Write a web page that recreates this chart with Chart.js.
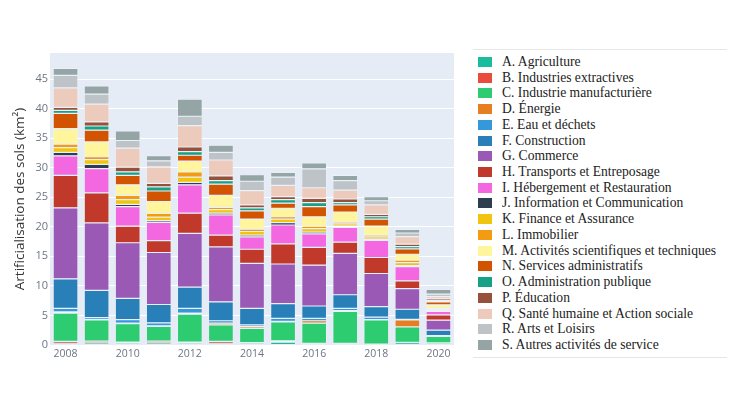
<!DOCTYPE html>
<html>
<head>
<meta charset="utf-8">
<script src="https://cdn.jsdelivr.net/npm/chart.js@4"></script>
<style>
  html, body { margin: 0; padding: 0; background: #fff; }
  #wrap { position: relative; width: 730px; height: 410px; overflow: hidden; }
  #plot { position: absolute; left: 0; top: 0; width: 470px; height: 410px; }
  #legend {
    position: absolute; left: 476px; top: 49px; width: 251px; height: 309px;
    box-sizing: border-box; font-family: "Liberation Serif", "DejaVu Serif", serif;
    font-size: 13.6px; color: #222;
  }
  #legend .frame { position: absolute; left: -3px; right: 0; top: 0; bottom: 0;
    border-top: 1px solid #e6e6e6; border-bottom: 1px solid #e6e6e6; }
  #legend .item { position: absolute; left: 2px; height: 15px; line-height: 15px; white-space: nowrap; }
  #legend .sw { display: inline-block; width: 14px; height: 10px; vertical-align: -1px; margin-right: 10px; }
</style>
</head>
<body>
<div id="wrap">
  <div id="plot"><canvas id="chart"></canvas></div>
  <div id="legend"><div class="frame"></div></div>
</div>
<script>
// Années
const annees = ['2008', '2009', '2010', '2011', '2012', '2013', '2014', '2015', '2016', '2017', '2018', '2019', '2020'];

// Secteurs (ordre d'empilement, du bas vers le haut)
const secteurs = [
  'A. Agriculture', 'B. Industries extractives', 'C. Industrie manufacturière', 'D. Énergie',
  'E. Eau et déchets', 'F. Construction', 'G. Commerce', 'H. Transports et Entreposage',
  'I. Hébergement et Restauration', 'J. Information et Communication', 'K. Finance et Assurance',
  'L. Immobilier', 'M. Activités scientifiques et techniques', 'N. Services administratifs',
  'O. Administration publique', 'P. Éducation', 'Q. Santé humaine et Action sociale',
  'R. Arts et Loisirs', 'S. Autres activités de service'
];

const couleurs = [
  '#1abc9c', '#e74c3c', '#2ecc71', '#e67e22', '#3498db', '#2980b9', '#9b59b6', '#c0392b',
  '#f368e0', '#2c3e50', '#f1c40f', '#f39c12', '#fff59d', '#d35400', '#16a085', '#96513b',
  '#eccbbc', '#bdc3c7', '#95a5a6'
];

// Valeurs en km², une liste par secteur (2008 -> 2020)
const agriculture      = [0.3, 0.35, 0.3, 0.35, 0.3, 0.3, 0.3, 0.5, 0.2, 0.2, 0.1, 0.4, 0.3];
const extractives      = [0.3, 0.3, 0.2, 0.3, 0.2, 0.3, 0.1, 0.2, 0.1, 0.1, 0.05, 0.05, 0.05];
const manufacturiere   = [4.8, 3.6, 3.1, 2.5, 4.7, 2.8, 2.4, 3.2, 3.4, 5.4, 4.1, 2.6, 1.1];
const energie          = [0.2, 0.1, 0.1, 0.1, 0.2, 0.3, 0.3, 0.1, 0.4, 0.1, 0.05, 1.2, 0.05];
const eauDechets       = [0.6, 0.3, 0.6, 0.5, 0.8, 0.4, 0.3, 0.5, 0.4, 0.4, 0.4, 0.1, 0.1];
const construction     = [5.0, 4.6, 3.6, 3.1, 3.6, 3.2, 2.8, 2.5, 2.1, 2.3, 1.8, 1.7, 0.9];
const commerce         = [12.0, 11.4, 9.4, 8.8, 9.1, 9.3, 7.6, 6.7, 6.9, 7.0, 5.6, 3.5, 1.7];
const transports       = [5.5, 5.1, 2.8, 2.0, 3.4, 2.0, 2.4, 3.4, 3.0, 1.9, 2.7, 1.3, 0.9];
const hebergement      = [3.3, 4.1, 3.3, 3.1, 4.8, 3.4, 2.1, 3.2, 2.3, 2.5, 2.9, 2.4, 0.6];
const information      = [0.6, 0.7, 0.4, 0.3, 0.4, 0.3, 0.3, 0.4, 0.3, 0.2, 0.2, 0.2, 0.1];
const finance          = [0.8, 0.8, 0.8, 0.6, 0.9, 0.6, 0.6, 0.6, 0.6, 0.4, 0.4, 0.5, 0.2];
const immobilier       = [0.6, 0.5, 0.7, 0.6, 0.9, 0.4, 0.4, 0.4, 0.4, 0.3, 0.3, 0.4, 0.2];
const scientifiques    = [2.6, 2.5, 1.8, 2.0, 1.8, 2.0, 1.7, 1.4, 1.6, 1.7, 1.5, 1.0, 0.6];
const administratifs   = [2.6, 2.0, 1.6, 1.8, 1.0, 1.9, 1.4, 0.9, 1.7, 1.2, 1.2, 0.9, 0.5];
const adminPublique    = [0.5, 0.7, 0.6, 0.7, 0.6, 0.6, 0.5, 0.6, 0.7, 0.4, 0.4, 0.4, 0.2];
const education        = [0.5, 0.7, 0.8, 0.6, 0.8, 0.8, 0.5, 0.5, 0.7, 0.6, 0.4, 0.4, 0.3];
const sante            = [3.3, 3.0, 3.2, 2.8, 3.6, 2.7, 2.4, 1.9, 1.8, 1.5, 1.6, 1.3, 0.4];
const artsLoisirs      = [2.1, 1.7, 1.3, 1.0, 1.6, 1.3, 1.6, 1.4, 3.2, 1.6, 0.7, 0.6, 0.4];
const autresServices   = [1.2, 1.4, 1.6, 0.9, 2.9, 1.2, 1.1, 0.8, 1.0, 0.9, 0.7, 0.6, 0.8];

const valeurs = [agriculture, extractives, manufacturiere, energie, eauDechets, construction,
  commerce, transports, hebergement, information, finance, immobilier, scientifiques,
  administratifs, adminPublique, education, sante, artsLoisirs, autresServices];

// Fond du graphique façon plotly
const fondPlot = {
  id: 'fondPlot',
  beforeDraw(chart) {
    const { ctx, chartArea: a } = chart;
    ctx.save();
    ctx.fillStyle = '#e5ecf6';
    ctx.fillRect(a.left, a.top, a.right - a.left, a.bottom - a.top);
    ctx.restore();
  }
};

const ctx = document.getElementById('chart').getContext('2d');
new Chart(ctx, {
  type: 'bar',
  data: {
    labels: annees,
    datasets: secteurs.map((s, i) => ({
      label: s,
      data: valeurs[i],
      backgroundColor: couleurs[i],
      borderColor: 'rgba(255,255,255,0.45)',
      borderWidth: 0.6,
      borderSkipped: false,
      barPercentage: 0.8,
      categoryPercentage: 1.0
    }))
  },
  options: {
    responsive: true,
    maintainAspectRatio: false,
    animation: false,
    layout: { padding: { top: 53, right: 16, bottom: 45, left: 12 } },
    plugins: {
      legend: { display: false },
      tooltip: { enabled: false }
    },
    scales: {
      x: {
        stacked: true,
        grid: { display: false, drawTicks: false },
        border: { display: false },
        ticks: {
          autoSkip: false,
          maxRotation: 0,
          padding: 3,
          color: '#6b7684',
          font: { family: 'Open Sans', size: 10.5 },
          callback: function (v, i) { return i % 2 === 0 ? annees[i] : ''; }
        },
        afterFit: function (scale) { scale.height = 20; }
      },
      y: {
        stacked: true,
        min: 0,
        max: 49.4,
        grid: { color: '#ffffff', lineWidth: 1, drawTicks: false },
        border: { display: false },
        afterBuildTicks: function (scale) {
          scale.ticks = scale.ticks.filter(t => t.value % 5 === 0);
        },
        ticks: {
          stepSize: 5,
          padding: 2,
          color: '#6b7684',
          font: { family: 'Open Sans', size: 11 }
        },
        title: {
          display: true,
          text: 'Artificialisation des sols (km²)',
          color: '#333',
          font: { family: 'Open Sans', size: 13.5 },
          padding: { top: 0, bottom: 0 }
        },
        afterFit: function (scale) { scale.width = 38; }
      }
    }
  },
  plugins: [fondPlot]
});

// Légende HTML
const leg = document.getElementById('legend');
secteurs.forEach((s, i) => {
  const d = document.createElement('div');
  d.className = 'item';
  d.style.top = (5 + i * 15.72) + 'px';
  d.innerHTML = '<span class="sw" style="background:' + couleurs[i] + '"></span>' + s;
  leg.appendChild(d);
});
</script>
</body>
</html>
